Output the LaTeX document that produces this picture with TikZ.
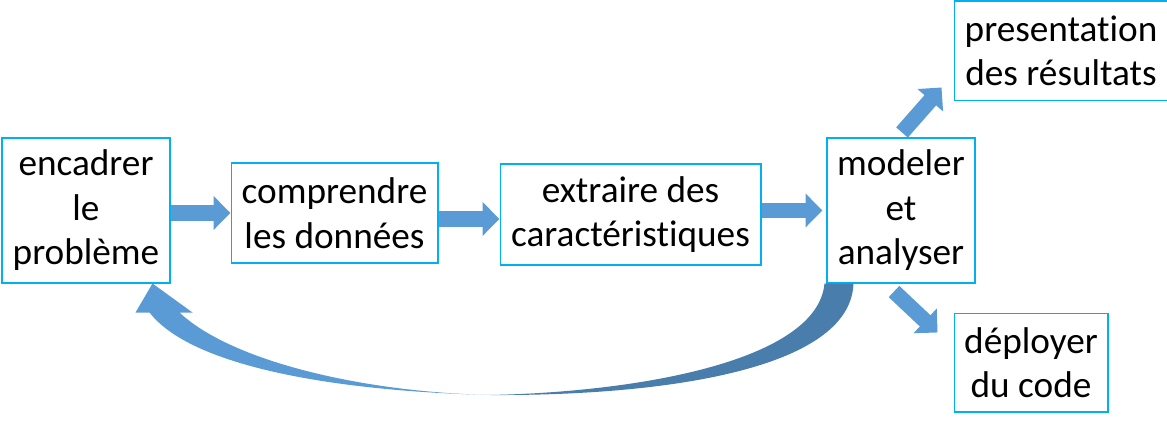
\documentclass[tikz,border=0pt]{standalone}
\usepackage{fontspec}
\setmainfont{Carlito}[Ligatures=CommonOff]
\usetikzlibrary{positioning,arrows.meta}
\definecolor{boxblue}{HTML}{00B0F0}
\definecolor{flowblue}{HTML}{5B9BD5}
\definecolor{backblue}{HTML}{497DAB}
\tikzset{
  stepbox/.style={draw=boxblue, line width=0.6pt, fill=white, inner sep=0pt, align=center,
    font=\fontsize{21.2}{25.3}\selectfont},
  flow/.style={draw=flowblue, line width=0.31cm, -{Triangle[length=0.34cm,width=0.66cm]}}
}
\begin{document}
\begin{tikzpicture}[x=0.02cm, y=-0.02cm]
        \useasboundingbox (0,0) rectangle (1167,421);
        % Nodes
        \node[stepbox, minimum width=3.36cm, minimum height=2.9cm] (prob) at (86,210.5) {encadrer\\le\\problème};
        \node[stepbox, minimum width=4.14cm, minimum height=2.0cm, right=1.2cm of prob, yshift=-0.05cm] (donnees) {comprendre\\les données};
        \node[stepbox, minimum width=5.22cm, minimum height=2.02cm, right=1.22cm of donnees, yshift=-0.03cm] (carac) {extraire des\\caractéristiques};
        \node[stepbox, minimum width=2.96cm, minimum height=2.9cm, right=1.3cm of carac, yshift=0.08cm] (modeler) {modeler\\et\\analyser};
        \node[stepbox, minimum width=4.28cm, minimum height=2.0cm, above right=0.72cm and -0.44cm of modeler] (resultats) {presentation\\des résultats};
        \node[stepbox, minimum width=3.08cm, minimum height=1.98cm, below right=0.58cm and -0.44cm of modeler] (code) {déployer\\du code};

        % Arrows
        \draw[flow] (prob.east |- donnees.west) -- (donnees.west);
        \draw[flow] ([yshift=-0.12cm]donnees.east) -- ([yshift=-0.09cm]carac.west);
        \draw[flow] (carac.east |- modeler.west) -- ([xshift=-0.08cm]modeler.west);
        \draw[flow] ([shift={(1,-5)}]modeler.north) -- ([shift={(-12,-14)}]resultats.south west);
        \draw[flow] ([shift={(-7,8)}]modeler.south) -- ([shift={(-16,20)}]code.north west);

        % Loop back
        \coordinate (loopbot) at (490,395);
        \fill[backblue] ([xshift=-0.04cm]modeler.south west) .. controls +(-7,77) and +(150,-3) .. (loopbot)
            .. controls +(170,1) and +(-3,87) .. ([xshift=0.54cm]modeler.south west) -- cycle;
        \fill[flowblue] (loopbot) .. controls +(-160,-4) and +(41,53) .. ([shift={(-21,29)}]prob.south east)
            -- ++(-14,0) -- ([xshift=-0.36cm]prob.south east) -- ++(40,29) -- ++(-13,0)
            .. controls +(51,48) and +(-130,-3) .. (loopbot) -- cycle;
    \end{tikzpicture}
\end{document}
